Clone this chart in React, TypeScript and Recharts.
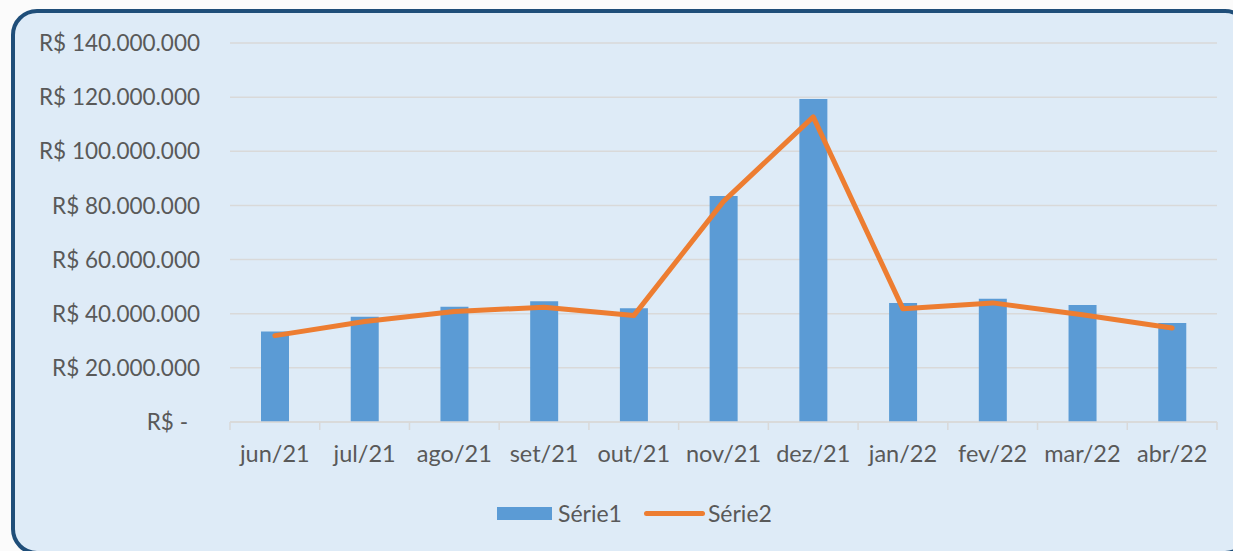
import {
  ComposedChart,
  Bar,
  Line,
  XAxis,
  YAxis,
  CartesianGrid,
  Legend,
} from "recharts";

const months = [
  "jun/21",
  "jul/21",
  "ago/21",
  "set/21",
  "out/21",
  "nov/21",
  "dez/21",
  "jan/22",
  "fev/22",
  "mar/22",
  "abr/22",
];

const serie1 = [
  33400000, 38900000, 42600000, 44600000, 42000000, 83500000, 119300000,
  44000000, 45500000, 43200000, 36600000,
];

const serie2 = [
  31900000, 37100000, 40800000, 42400000, 39300000, 81500000, 112700000,
  41800000, 44000000, 39600000, 34700000,
];

const yTicks = [0, 20000000, 40000000, 60000000, 80000000, 100000000, 120000000, 140000000];

const data = months.map((name, i) => ({
  name,
  s1: serie1[i],
  s2: serie2[i],
}));

const W = 1233;
const H = 551;
const PLOT_LEFT = 230;
const PLOT_RIGHT = 1217;
const STEP = (PLOT_RIGHT - PLOT_LEFT) / months.length;
const FONT = "Lato, 'Open Sans', sans-serif";
const TEXT = "#595959";
const GRID = "#D9D9D9";

const fmtMoney = (v: number) =>
  v === 0 ? "R$ -" : "R$ " + v.toLocaleString("pt-BR");

const YTick = ({ x, y, payload }: any) => {
  const zero = payload.value === 0;
  return (
    <text
      x={zero ? x - 12 : x}
      y={y}
      dy="0.36em"
      textAnchor="end"
      fill={TEXT}
      fontSize={22.5}
      fontFamily={FONT}
    >
      {fmtMoney(payload.value)}
    </text>
  );
};

const XTick = ({ x, y, payload, index }: any) => {
  const left = x - STEP / 2;
  return (
    <g>
      <line x1={left} y1={y} x2={left} y2={y + 8} stroke={GRID} strokeWidth={1.5} />
      {index === months.length - 1 && (
        <line x1={x + STEP / 2} y1={y} x2={x + STEP / 2} y2={y + 8} stroke={GRID} strokeWidth={1.5} />
      )}
      <text
        x={x}
        y={y + 40}
        textAnchor="middle"
        fill={TEXT}
        fontSize={23.5}
        fontFamily={FONT}
      >
        {payload.value}
      </text>
    </g>
  );
};

const LegendContent = () => (
  <div
    style={{
      display: "flex",
      alignItems: "center",
      fontFamily: FONT,
      fontSize: 23,
      color: TEXT,
      whiteSpace: "nowrap",
    }}
  >
    <span style={{ display: "inline-block", width: 55, height: 13, background: "#5B9BD5" }} />
    <span style={{ marginLeft: 6 }}>Série1</span>
    <span
      style={{
        display: "inline-block",
        width: 61,
        height: 5,
        borderRadius: 3,
        background: "#ED7D31",
        marginLeft: 22,
      }}
    />
    <span style={{ marginLeft: 3 }}>Série2</span>
  </div>
);

export default function App() {
  return (
    <div
      style={{
        position: "absolute",
        left: 0,
        top: 0,
        width: W,
        height: H,
        overflow: "hidden",
        background: "#FBFBFB",
      }}
    >
      <div
        style={{
          position: "absolute",
          left: 11,
          top: 9,
          width: 1240,
          height: 546,
          boxSizing: "border-box",
          border: "4.5px solid #1F4E79",
          borderRadius: 26,
          background: "#DEEBF7",
        }}
      />
      <div style={{ position: "absolute", left: 0, top: 0 }}>
        <ComposedChart
          width={W}
          height={H}
          data={data}
          margin={{ top: 43, right: W - PLOT_RIGHT, bottom: 79, left: 0 }}
          barCategoryGap="34%"
        >
          <CartesianGrid vertical={false} stroke={GRID} strokeWidth={1.5} />
          <XAxis
            dataKey="name"
            height={50}
            axisLine={{ stroke: GRID, strokeWidth: 1.5 }}
            tickLine={false}
            tickSize={0}
            tickMargin={0}
            interval={0}
            tick={<XTick />}
          />
          <YAxis
            width={PLOT_LEFT}
            domain={[0, 140000000]}
            ticks={yTicks}
            axisLine={false}
            tickLine={false}
            tickSize={0}
            tickMargin={30}
            tick={<YTick />}
          />
          <Legend
            layout="horizontal"
            verticalAlign="middle"
            align="center"
            content={<LegendContent />}
            wrapperStyle={{ position: "absolute", left: 497, top: 499, width: 300 }}
          />
          <Bar dataKey="s1" name="Série1" fill="#5B9BD5" barSize={28} isAnimationActive={false} />
          <Line
            dataKey="s2"
            name="Série2"
            stroke="#ED7D31"
            strokeWidth={5}
            dot={false}
            strokeLinejoin="round"
            strokeLinecap="round"
            isAnimationActive={false}
          />
        </ComposedChart>
      </div>
    </div>
  );
}
